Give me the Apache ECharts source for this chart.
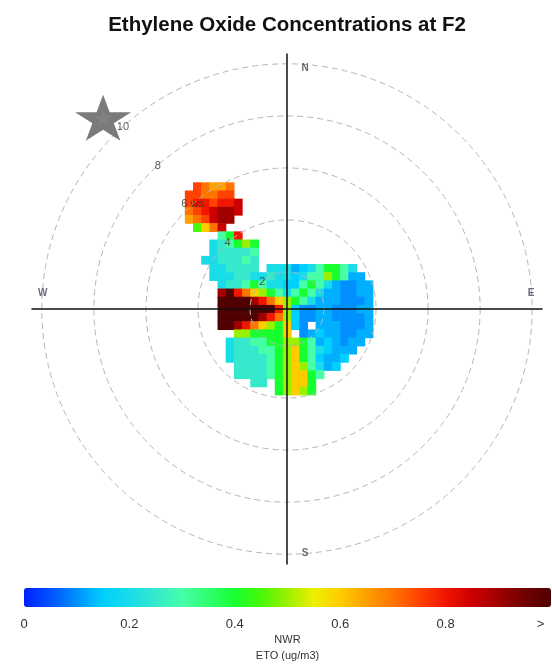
<!DOCTYPE html>
<html><head><meta charset="utf-8">
<script src="https://cdn.jsdelivr.net/npm/echarts@6/dist/echarts.min.js"></script>
<style>html,body{margin:0;padding:0;background:#fff}#c{width:552px;height:665px}</style>
</head><body><div id="c"></div>
<script>
// ---------------- data ----------------
const chartTitle = 'Ethylene Oxide Concentrations at F2';
const ringSpeeds = [2, 4, 6, 8, 10];
const ringLabels = ['2', '4', '6 ws', '8', '10'];
const compassLabels = ['N', 'E', 'S', 'W'];
const colorTicks = [0, 0.2, 0.4, 0.6, 0.8, 0.98];
const colorTickLabels = ['0', '0.2', '0.4', '0.6', '0.8', '>'];
const legendTitle = ['NWR', 'ETO (ug/m3)'];
const wsAtCentre = 0.58;          // wind speed at the plot centre
const wsOuter = 10;               // outer ring
const sourceLocation = [-7.5, 7.8]; // star marker (plot units)
// surface grid (plot units, cell centres)
const gridStep = 1 / 3;
const gridU0 = -4;
const gridV0 = 16 / 3;
// codes: digit d -> d/10, a..j -> 0.05..0.95, k -> 0.125, X -> 1.0 (">"), '.' -> no data
const surfaceRows = [
  "........................",
  ".h7gg7..................",
  "hh77hh..................",
  "h88h88i.................",
  "7h8i99i.................",
  "g7hi99..................",
  ".e67i...................",
  "....348.................",
  "...2c3454...............",
  "...2cccc3...............",
  "..22ccc3c...............",
  "...22cccc.222kb234432...",
  "...222cc22c22b233543kk..",
  "....2cc34322bb3432k11kk.",
  "....9X87654323432kk11kk.",
  "....XXXX98765432kkk111k.",
  "....XXXXXXX85b11kk111kk.",
  "....XXXXX9875b11kk1111k.",
  "....XX9876546b1.kkk111k.",
  "......5544446.1kbkk11kk.",
  ".....2cc33445543kbk1kk..",
  ".....2ccc33456432bkkk...",
  ".....2cccc345643bkkb....",
  "......cccc3456532kb.....",
  "......cccc3456643.......",
  "........cc.45664........",
  "...........45654........"
];
const paletteColors = ['#0020ff','#0052ff','#0090ff','#00d0ff','#18dce8','#36e8cc','#46ffa8','#30ff70','#18ff30','#48f808',
  '#9af000','#eef000','#ffcc00','#ffa000','#ff7400','#ff4200','#f01600','#cc0000','#a00000','#720000','#500000'];

// ---------------- build ----------------
function codeValue(c) {
  if (c >= '0' && c <= '9') return (+c) / 10;
  if (c === 'X') return 1.0;
  if (c === 'k') return 0.125;
  const k = 'abcdefghij'.indexOf(c);
  return k >= 0 ? 0.05 + 0.1 * k : null;
}
const surfaceData = [];
surfaceRows.forEach((row, j) => {
  for (let i = 0; i < row.length; i++) {
    const v = codeValue(row[i]);
    if (v !== null) surfaceData.push([gridU0 + i * gridStep, gridV0 - j * gridStep, v]);
  }
});
const plotR = ws => (ws - wsAtCentre) / (wsOuter - wsAtCentre) * 10;
const AX = 10.4;
const labelAngle = 42 * Math.PI / 180;
const ringLabelData = ringSpeeds.map((ws, k) => ({
  name: ringLabels[k],
  value: [-plotR(ws) * Math.sin(labelAngle), plotR(ws) * Math.cos(labelAngle)]
}));
const R = plotR(wsOuter);
const compassDirs = [[0, 1], [1, 0], [0, -1], [-1, 0]];
const compassOffsets = [[18, 4], [-1, -16], [18, -1], [1, -16]];
const compassData = compassLabels.map((t, k) => ({
  name: t, value: [compassDirs[k][0] * R, compassDirs[k][1] * R],
  label: { offset: compassOffsets[k] }
}));
const starPath = 'path://M50,0 L61.2,34.5 L97.6,34.5 L68.2,55.9 L79.4,90.5 L50,69.1 L20.6,90.5 L31.8,55.9 L2.4,34.5 L38.8,34.5 Z';
const FONT = 'Liberation Sans, Arial, sans-serif';

const chart = echarts.init(document.getElementById('c'), null, { renderer: 'canvas' });
chart.setOption({
  animation: false,
  backgroundColor: '#fff',
  title: {
    text: chartTitle, left: 282, top: 10, textAlign: 'center',
    textStyle: { fontSize: 20.5, fontWeight: 'bold', color: '#111', fontFamily: FONT }
  },
  grid: [
    { left: 32, top: 54, width: 510, height: 510 },
    { left: 24, top: 588, width: 527, height: 19 }
  ],
  xAxis: [
    { type: 'value', gridIndex: 0, min: -AX, max: AX, z: 10,
      axisLine: { show: true, onZero: true, lineStyle: { color: '#111', width: 1.5 } },
      axisTick: { show: false }, axisLabel: { show: false }, splitLine: { show: false } },
    { type: 'value', gridIndex: 1, min: 0, max: 1, interval: 0.2,
      axisLine: { show: false }, axisTick: { show: false }, splitLine: { show: false },
      axisLabel: { show: true, margin: 21, color: '#333', fontSize: 13, fontFamily: FONT,
        customValues: colorTicks,
        formatter: v => { const k = colorTicks.indexOf(v); return k >= 0 ? colorTickLabels[k] : String(v); } },
      name: legendTitle.join('\n'), nameLocation: 'middle', nameGap: 35,
      nameTextStyle: { color: '#333', fontSize: 11, lineHeight: 16, fontFamily: FONT } }
  ],
  yAxis: [
    { type: 'value', gridIndex: 0, min: -AX, max: AX, z: 10,
      axisLine: { show: true, onZero: true, lineStyle: { color: '#111', width: 1.5 } },
      axisTick: { show: false }, axisLabel: { show: false }, splitLine: { show: false } },
    { type: 'value', gridIndex: 1, min: 0, max: 1, show: false }
  ],
  visualMap: {
    type: 'continuous', seriesIndex: 0, dimension: 2, min: 0, max: 1,
    orient: 'horizontal', left: 24, top: 588, itemWidth: 19, itemHeight: 527,
    calculable: false, hoverLink: false, padding: 0, text: null, showLabel: false,
    inRange: { color: paletteColors }
  },
  series: [
    { type: 'custom', name: 'surface', xAxisIndex: 0, yAxisIndex: 0, z: 2,
      encode: { x: 0, y: 1 }, data: surfaceData,
      renderItem: (params, api) => {
        const u = api.value(0), v = api.value(1), h = gridStep / 2;
        const a = api.coord([u - h, v + h]);
        const b = api.coord([u + h, v - h]);
        return { type: 'rect', shape: { x: a[0], y: a[1], width: b[0] - a[0] + 0.6, height: b[1] - a[1] + 0.6 },
          style: { fill: api.visual('color') } };
      } },
    { type: 'custom', name: 'rings', xAxisIndex: 0, yAxisIndex: 0, z: 3,
      encode: { x: 0, y: 1 }, data: ringSpeeds.map(ws => [0, 0, ws]),
      renderItem: (params, api) => {
        const c = api.coord([0, 0]);
        const e = api.coord([plotR(api.value(2)), 0]);
        return { type: 'circle', shape: { cx: c[0], cy: c[1], r: e[0] - c[0] },
          style: { fill: null, stroke: '#b6b6b6', lineWidth: 1, lineDash: [6, 4] } };
      } },
    { type: 'scatter', name: 'ringLabels', xAxisIndex: 0, yAxisIndex: 0, z: 5, symbolSize: 0,
      data: ringLabelData, silent: true,
      label: { show: true, position: 'inside', formatter: '{b}', color: '#333', fontSize: 11, fontFamily: FONT } },
    { type: 'scatter', name: 'compass', xAxisIndex: 0, yAxisIndex: 0, z: 5, symbolSize: 0,
      data: compassData, silent: true,
      label: { show: true, position: 'inside', formatter: '{b}', color: '#445', fontSize: 10, fontWeight: 'bold', fontFamily: FONT } },
    { type: 'scatter', name: 'source', xAxisIndex: 0, yAxisIndex: 0, z: 8, symbol: starPath,
      symbolSize: [56, 46], data: [sourceLocation], itemStyle: { color: '#595959' }, silent: true },
    { type: 'scatter', name: 'sourceInner', xAxisIndex: 0, yAxisIndex: 0, z: 9, symbol: starPath,
      symbolSize: [18, 16], data: [sourceLocation], itemStyle: { color: '#858585' }, silent: true }
  ]
});
</script></body></html>
